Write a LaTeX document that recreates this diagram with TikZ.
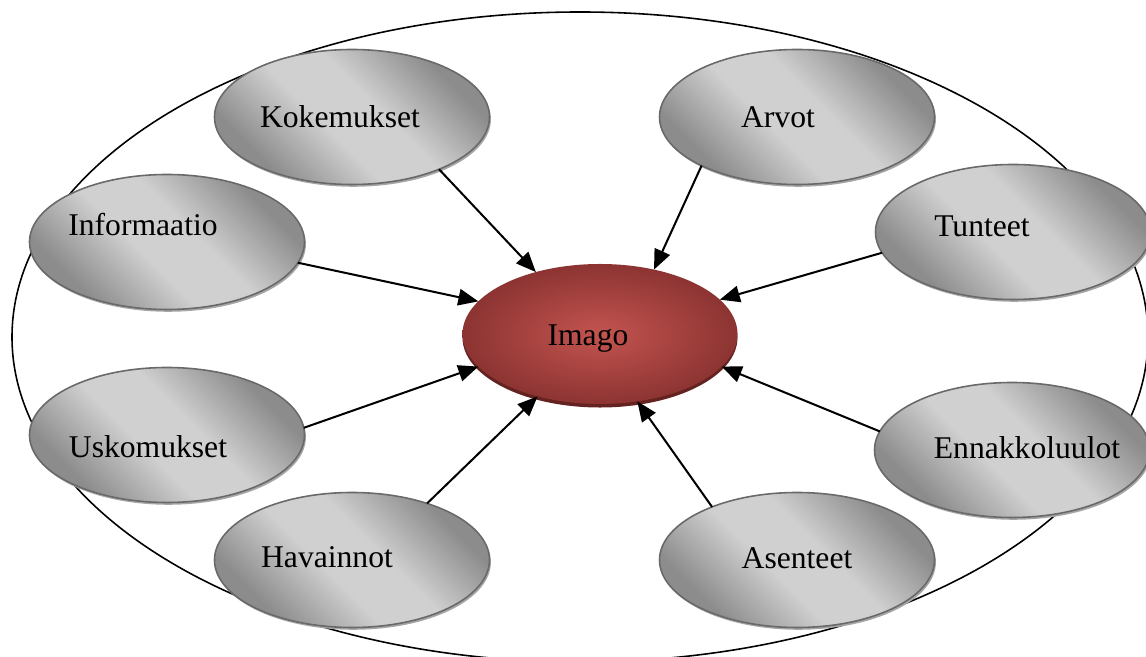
\documentclass[tikz,border=0pt]{standalone}
\usepackage{fontspec}
\setmainfont{Liberation Serif}
\usepackage{tikz}
\usetikzlibrary{shapes.geometric,shadows,arrows.meta}
\usepackage{xcolor}
\definecolor{bubbledark}{RGB}{140,140,140}
\definecolor{bubblelight}{RGB}{208,208,208}
\definecolor{bubbleedge}{RGB}{105,105,105}
\definecolor{imagolight}{RGB}{196,84,80}
\definecolor{imagodark}{RGB}{140,52,50}
\definecolor{imagoshadow}{RGB}{100,34,32}
\pgfdeclareverticalshading{bubbleshade}{100bp}{color(0bp)=(bubbledark); color(27bp)=(bubbledark);
  color(44bp)=(bubblelight); color(56bp)=(bubblelight); color(73bp)=(bubbledark); color(100bp)=(bubbledark)}

\begin{document}
\begin{tikzpicture}[
  bubble/.style={ellipse, draw=bubbleedge, line width=0.9pt, outer sep=0pt,
    minimum width=5.5cm, minimum height=2.7cm,
    shading=bubbleshade, shading angle=-45,
    drop shadow={shadow xshift=0.8pt, shadow yshift=-1.3pt, fill=black!35, opacity=1}},
  word/.style={font=\fontsize{18}{22}\selectfont, inner sep=0pt},
  feed/.style={-{Triangle[length=4mm,width=3.3mm]}, line width=1.15pt}
]
\useasboundingbox (0,0) rectangle (22.92,13.14);

% Outer ellipse
\node[ellipse, draw, line width=0.9pt, minimum width=22.72cm, minimum height=13cm, inner sep=0pt] (whole) at (11.6,6.4) {};

% Centre
\node[ellipse, outer sep=0pt, minimum width=5.5cm, minimum height=2.8cm,
  inner color=imagolight, outer color=imagodark,
  drop shadow={shadow xshift=0pt, shadow yshift=-2pt, fill=imagoshadow, opacity=1}] (imago) at (12.0,6.46) {};
\node[word] (imagoT) at ([xshift=-0.24cm,yshift=-0.1cm]imago.center) {Imago};

% Sources
\node[bubble] (kok) at (7.04,10.8) {};
\node[word] (kokT) at ([xshift=-0.24cm]kok.center) {Kokemukset};

\node[bubble] (arv) at (15.94,10.8) {};
\node[word] (arvT) at ([xshift=-0.38cm]arv.center) {Arvot};

\node[bubble] (inf) at (3.34,8.3) {};
\node[word] (infT) at ([xshift=-0.48cm,yshift=0.34cm]inf.center) {Informaatio};

\node[bubble] (tun) at (20.26,8.5) {};
\node[word] (tunT) at ([xshift=-0.62cm,yshift=0.12cm]tun.center) {Tunteet};

\node[bubble] (usk) at (3.34,4.44) {};
\node[word] (uskT) at ([xshift=-0.38cm,yshift=-0.24cm]usk.center) {Uskomukset};

\node[bubble] (enn) at (20.24,4.14) {};
\node[word] (ennT) at ([xshift=0.3cm,yshift=0.04cm]enn.center) {Ennakkoluulot};

\node[bubble] (hav) at (7.04,1.94) {};
\node[word] (havT) at ([xshift=-0.5cm,yshift=0.06cm]hav.center) {Havainnot};

\node[bubble] (ase) at (15.94,1.94) {};
\node[word] (aseT) at ([yshift=0.04cm]ase.center) {Asenteet};

% Arrows
\draw[feed] (kok.-31) -- (imago.136);
\draw[feed] (arv.207) -- (imago.50);
\draw[feed] (inf.-9) -- (imago.165);
\draw[feed] (tun.189) -- (imago.16);
\draw[feed] (usk.3) -- (imago.195);
\draw[feed] (enn.172) -- (imago.-15);
\draw[feed] (hav.37) -- (imago.225);
\draw[feed] (ase.148) -- (imago.-61);
\end{tikzpicture}
\end{document}
